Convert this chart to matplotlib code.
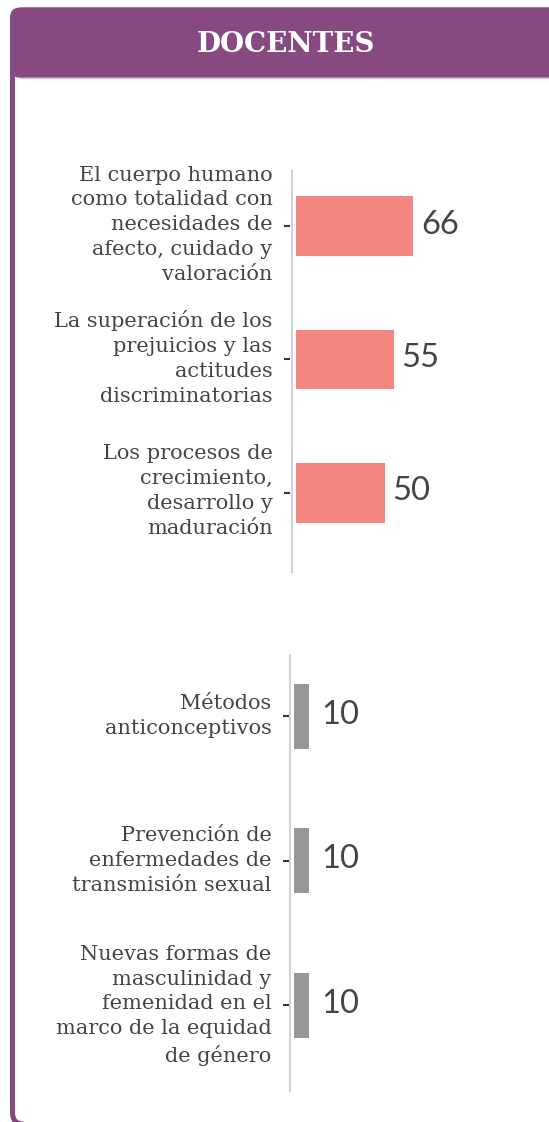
import matplotlib
matplotlib.use("Agg")
import matplotlib.pyplot as plt
from matplotlib.patches import FancyBboxPatch
from matplotlib.lines import Line2D
from matplotlib.transforms import ScaledTranslation

# ---- data -------------------------------------------------------------
titulo = "DOCENTES"

temas_mas = [
    "El cuerpo humano\ncomo totalidad con\nnecesidades de\nafecto, cuidado y\nvaloración",
    "La superación de los\nprejuicios y las\nactitudes\ndiscriminatorias",
    "Los procesos de\ncrecimiento,\ndesarrollo y\nmaduración",
]
valores_mas = [66, 55, 50]

temas_menos = [
    "Métodos\nanticonceptivos",
    "Prevención de\nenfermedades de\ntransmisión sexual",
    "Nuevas formas de\nmasculinidad y\nfemenidad en el\nmarco de la equidad\nde género",
]
valores_menos = [10, 10, 10]

# ---- style ------------------------------------------------------------
W, H, DPI = 549, 1122, 100
PURPLE = "#874A80"
PINK = "#F48681"
GREY_BAR = "#979797"
LABEL_C = "#444444"
VALUE_C = "#444444"
AXIS_C = "#cdcdcd"
SERIF = ["DejaVu Serif"]
ROUND = ["Lato", "DejaVu Sans"]

fig = plt.figure(figsize=(W / DPI, H / DPI), dpi=DPI)
inch = fig.dpi_scale_trans


def box(x0, y0, x1, y1):
    """Pixel box (origin top-left) -> inches (origin bottom-left)."""
    return x0 / DPI, (H - y1) / DPI, (x1 - x0) / DPI, (y1 - y0) / DPI


# card outline with rounded corners
x, y, w, h = box(12.5, 10, 900, 1124)
fig.patches.append(FancyBboxPatch(
    (x, y), w, h, boxstyle="round,pad=0,rounding_size=0.11",
    transform=inch, fill=False, edgecolor=PURPLE, linewidth=5 * 72 / DPI,
    zorder=1))

# header band
x, y, w, h = box(10, 7.5, 900, 77.7)
fig.patches.append(FancyBboxPatch(
    (x, y), w, h, boxstyle="round,pad=0,rounding_size=0.1",
    transform=inch, facecolor=PURPLE, edgecolor="none", zorder=2))
fig.lines.append(Line2D([20 / DPI, W / DPI], [(H - 78.3) / DPI] * 2,
                        transform=inch, color="#d8c3d5", lw=0.8, zorder=2))
fig.text(286 / W, 1 - 44 / H, titulo, ha="center", va="center",
         color="white", fontsize=20, fontweight="bold", family=SERIF)


def panel(labels, values, color, left, right, top, bottom, zero, ppu,
          line_x, val_off, ylim, lab_shift):
    ax = fig.add_axes([left / W, 1 - bottom / H,
                       (right - left) / W, (bottom - top) / H])
    ax.patch.set_alpha(0)
    pos = list(range(len(values)))
    ax.barh(pos, values, height=0.45, color=color, zorder=2)
    ax.set_xlim((left - zero) / ppu, (right - zero) / ppu)
    ax.set_ylim(*ylim)
    ax.axvline((line_x - zero) / ppu, color=AXIS_C, lw=1.3, zorder=1)
    for s in ax.spines.values():
        s.set_visible(False)
    ax.set_xticks([])
    ax.set_yticks(pos, labels)
    ax.tick_params(axis="y", direction="in", length=4.5, width=1.5,
                   color="#333333", pad=8.3, labelsize=15,
                   labelcolor=LABEL_C)
    nudge = ScaledTranslation(0, lab_shift / DPI, fig.dpi_scale_trans)
    for lab in ax.get_yticklabels():
        lab.set_family(SERIF)
        lab.set_va("center")
        lab.set_linespacing(1.39)
        lab.set_transform(lab.get_transform() + nudge)
    for p, v in zip(pos, values):
        ax.annotate(f"{v}", xy=(v, p), xytext=(val_off, 1.0),
                    textcoords="offset points", ha="left", va="center",
                    fontsize=23.5, family=ROUND, fontweight="normal",
                    color=VALUE_C)
    return ax


panel(temas_mas, valores_mas, PINK, left=284, right=540, top=170,
      bottom=572.7, zero=295.7, ppu=1.78, line_x=291.7, val_off=5.6,
      ylim=(2.6, -0.422), lab_shift=1.5)
panel(temas_menos, valores_menos, GREY_BAR, left=283, right=540, top=654,
      bottom=1092, zero=294.3, ppu=1.5, line_x=290, val_off=8.4,
      ylim=(2.6, -0.43), lab_shift=0)

fig.savefig("out.png", dpi=DPI, facecolor="white")
